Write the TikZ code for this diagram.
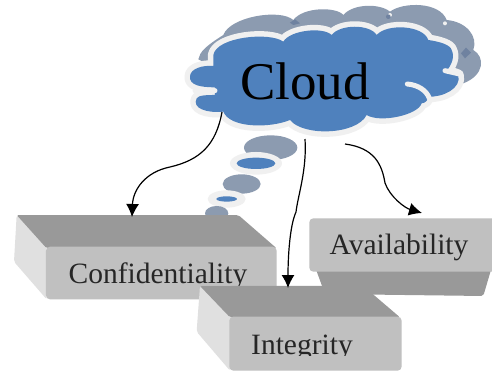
\documentclass[tikz,border=0pt]{standalone}
\usepackage{fontspec}
\setmainfont{Liberation Serif}
\usetikzlibrary{arrows.meta}
\definecolor{cblue}{HTML}{4F81BD}
\definecolor{cgray}{HTML}{8C9BB0}
\definecolor{chalo}{HTML}{F0F0F0}
\definecolor{ctop}{HTML}{999999}
\definecolor{cfront}{HTML}{C0C0C0}
\definecolor{cside}{HTML}{E0E0E0}
\definecolor{cspeck}{HTML}{6F82A0}
\tikzset{
  topface/.style={fill=ctop,rounded corners=2pt},
  sideface/.style={fill=cside,rounded corners=2pt},
  frontface/.style={fill=cfront,rounded corners=4pt},
  boxlabel/.style={font=\fontsize{29.5}{30}\selectfont,inner sep=0pt,text=black!85},
  flow/.style={draw=black,line width=1.2pt,-{Latex[length=13pt,width=13pt]}},
  notch/.style={draw=chalo,line width=5pt,line cap=round},
  zoomed/.style={x=0.3333pt,y=-0.3333pt}
}
\newcommand{\cloudpath}{
  (105,262) .. controls (60,262) and (28,255) .. (30,230)
  .. controls (30,205) and (70,195) .. (100,198)
  -- (100,165) .. controls (110,110) and (270,95) .. (310,125)
  .. controls (330,90) and (430,80) .. (455,105)
  .. controls (480,72) and (570,72) .. (590,105)
  .. controls (620,70) and (730,75) .. (745,120)
  .. controls (780,125) and (812,135) .. (815,150)
  .. controls (825,170) and (815,195) .. (800,212)
  -- (835,225) .. controls (845,265) and (790,292) .. (745,290)
  .. controls (745,300) and (735,310) .. (725,310)
  .. controls (715,345) and (600,370) .. (560,345)
  .. controls (530,405) and (370,410) .. (330,360)
  .. controls (270,385) and (150,385) .. (130,335)
  .. controls (80,340) and (35,325) .. (50,295)
  .. controls (55,285) and (85,285) .. (105,285) -- cycle
}
\begin{document}
\begin{tikzpicture}[x=1pt,y=-1pt]
\useasboundingbox (0,0) rectangle (492,372);
\fill[white] (0,0) rectangle (492,372);

% cloud with its thought bubbles
\begin{scope}[shift={(180,0)},zoomed]
  \fill[cgray] (55,178) .. controls (60,155) and (75,140) .. (130,105)
    .. controls (150,50) and (300,25) .. (340,60)
    .. controls (370,20) and (470,20) .. (490,45)
    .. controls (520,10) and (600,10) .. (630,35)
    .. controls (670,5) and (780,5) .. (800,60)
    .. controls (860,65) and (895,110) .. (880,150)
    .. controls (915,170) and (915,225) .. (850,250)
    -- (500,250) -- (100,200) -- cycle;
  \fill[cspeck] (330,68) -- (345,58) -- (360,70) -- (340,75) -- cycle;
  \fill[cspeck] (843,160) -- (858,143) -- (873,158) -- (855,175) -- cycle;
  \fill[chalo] (630,45) circle[radius=6];
  \fill[cspeck] (625,50) circle[radius=7];
  \fill[chalo] (795,70) circle[radius=6];
  \draw[chalo,line width=11pt,line join=round,fill=chalo] \cloudpath;
  \fill[cblue] \cloudpath;
  \draw[notch] (682,252) .. controls (715,255) and (740,272) .. (748,295);
  \draw[notch] (795,212) -- (838,222);
  \draw[notch] (45,273) -- (105,273);
  \fill[cgray] (272,443) ellipse[x radius=80,y radius=37];
  \fill[chalo] (228,490) ellipse[x radius=78,y radius=34];
  \fill[cblue] (228,490) ellipse[x radius=58,y radius=17];
  \fill[cgray] (185,552) ellipse[x radius=57,y radius=29];
  \fill[chalo] (140,597) ellipse[x radius=57,y radius=26];
  \fill[cblue] (140,597) ellipse[x radius=31,y radius=8];
  \fill[cgray] (110,640) ellipse[x radius=35,y radius=22];
\end{scope}
\node[inner sep=0pt,font=\fontsize{53}{53}\selectfont,text=black] (cloud) at (305,81) {Cloud};
\coordinate (cloudL) at (222,112);
\coordinate (cloudM) at (305,139);
\coordinate (cloudR) at (345,144);

% availability box
\begin{scope}[shift={(0,200)},zoomed]
  \fill[topface] (945,200) -- (975,282) -- (1450,288) -- (1476,200) -- cycle;
  \fill[frontface] (928,55) -- (1490,55) -- (1490,215) -- (928,215) -- cycle;
\end{scope}
\node[boxlabel] (avail) at (399,247.5) {Availability};

% confidentiality box
\begin{scope}[shift={(0,200)},zoomed]
  \fill[sideface] (50,45) -- (140,45) -- (140,298) -- (42,185) -- cycle;
  \fill[topface] (50,45) -- (715,45) -- (830,145) -- (140,145) -- cycle;
  \fill[frontface] (138,140) -- (830,140) -- (830,298) -- (138,298) -- cycle;
\end{scope}
\begin{scope}
  \clip (0,200) rectangle (492,285);
  \node[boxlabel,anchor=base] (conf) at (158,283) {Confidentiality};
\end{scope}

% integrity box
\begin{scope}[shift={(0,200)},zoomed]
  \fill[sideface] (600,258) -- (700,258) -- (690,512) -- (590,395) -- cycle;
  \fill[topface] (600,258) -- (1090,258) -- (1200,352) -- (690,352) -- cycle;
  \fill[frontface] (688,350) -- (1205,350) -- (1205,512) -- (688,512) -- cycle;
\end{scope}
\begin{scope}
  \clip (0,300) rectangle (492,355.5);
  \node[boxlabel,anchor=base] (integ) at (302,354) {Integrity};
\end{scope}

% connectors
\draw[flow] (cloudL) .. controls (216,145) and (200,160) .. (170,167)
   .. controls (145,172) and (133,190) .. (132,217);
\draw[flow] (cloudM) .. controls (307,170) and (298,195) .. (296,212)
   .. controls (290,225) and (288,255) .. (288,288);
\draw[flow] (cloudR) .. controls (375,148) and (382,165) .. (385,183)
   .. controls (390,197) and (405,208) .. (422,213);
\end{tikzpicture}
\end{document}
